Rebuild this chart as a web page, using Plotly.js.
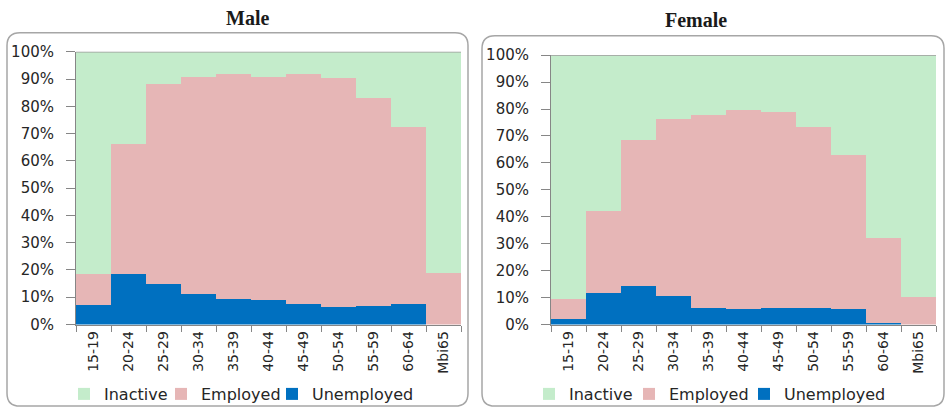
<!DOCTYPE html>
<html>
<head>
<meta charset="utf-8">
<script src="https://cdn.plot.ly/plotly-3.0.1.min.js"></script>
<style>html,body{margin:0;padding:0;background:#fff;}#chart{width:945px;height:411px;}</style>
</head>
<body>
<div id="chart"></div>
<script>
const ageGroups = ["15-19","20-24","25-29","30-34","35-39","40-44","45-49","50-54","55-59","60-64","Mbi65"];
const seriesNames = ["Inactive","Employed","Unemployed"];
const panelTitles = ["Male","Female"];

const maleUnemployed = [7.0, 18.5, 14.7, 11.3, 9.4, 9.1, 7.4, 6.4, 6.8, 7.5, 0];
const maleEmployed   = [11.5, 47.6, 73.4, 79.6, 82.6, 81.8, 84.6, 83.9, 76.2, 65.1, 18.9];
const maleInactive   = [81.5, 33.9, 11.9, 9.1, 8.0, 9.1, 8.0, 9.7, 17.0, 27.4, 81.1];

const femaleUnemployed = [2.0, 11.7, 14.3, 10.4, 6.3, 5.8, 6.3, 6.3, 5.8, 0.7, 0];
const femaleEmployed   = [7.6, 30.6, 54.1, 66.0, 71.6, 73.9, 72.7, 67.2, 57.1, 31.5, 10.2];
const femaleInactive   = [90.4, 57.7, 31.6, 23.6, 22.1, 20.3, 21.0, 26.5, 37.1, 67.8, 89.8];

const colors = {Inactive:"#C4ECCB", Employed:"#E6B6B6", Unemployed:"#0070C0"};
const W = 945, H = 411;
const px = x => x / W;
const py = y => (H - y) / H;

// one legend box per entry so each label sits close to where the reference puts it
const legendTextX = {
  male:   {Inactive: 105, Employed: 202, Unemployed: 313},
  female: {Inactive: 570, Employed: 670, Unemployed: 785}
};
const legendIds = {
  male:   {Inactive: "legend", Employed: "legend2", Unemployed: "legend3"},
  female: {Inactive: "legend4", Employed: "legend5", Unemployed: "legend6"}
};

function traces(unemp, emp, inact, xa, ya, panel) {
  const mk = (name, vals) => ({
    type: "bar", name: name, x: ageGroups, y: vals, xaxis: xa, yaxis: ya, legend: legendIds[panel][name],
    marker: {color: colors[name], line: {width: 0}}, hoverinfo: "skip"
  });
  return [mk("Unemployed", unemp), mk("Employed", emp), mk("Inactive", inact)];
}

const data = [].concat(
  traces(maleUnemployed, maleEmployed, maleInactive, "x", "y", "male"),
  traces(femaleUnemployed, femaleEmployed, femaleInactive, "x2", "y2", "female")
);

const axisGray = "#868686";
const tickFont = {family: "DejaVu Sans", size: 14, color: "#262626"};
function xAxis(d) {
  return {domain: d, type: "category", tickangle: -90, tickson: "boundaries", ticks: "outside",
    ticklen: 6, tickcolor: axisGray, showline: true, linecolor: axisGray, linewidth: 1,
    tickfont: tickFont, showgrid: false, zeroline: false, fixedrange: true};
}
function yAxis(d, anchor) {
  return {domain: d, anchor: anchor, range: [0, 100], dtick: 10, ticksuffix: "%", ticks: "outside",
    ticklen: 9, tickcolor: axisGray, showline: true, linecolor: axisGray, linewidth: 1, ticklabelstandoff: 9,
    tickfont: {family: "DejaVu Sans", size: 15, color: "#262626"}, showgrid: false, zeroline: false, fixedrange: true};
}

function roundRect(x0, y0, x1, y1, r) {
  const rx = r / W, ry = r / H;
  const X0 = px(x0), X1 = px(x1), Y0 = py(y0), Y1 = py(y1);
  return `M${X0+rx},${Y0} L${X1-rx},${Y0} Q${X1},${Y0} ${X1},${Y0-ry} L${X1},${Y1+ry} Q${X1},${Y1} ${X1-rx},${Y1} L${X0+rx},${Y1} Q${X0},${Y1} ${X0},${Y1+ry} L${X0},${Y0-ry} Q${X0},${Y0} ${X0+rx},${Y0} Z`;
}

const legendBase = {orientation: "h", font: {family: "DejaVu Sans", size: 16, color: "#262626"},
  yanchor: "middle", y: py(398), xanchor: "left", bgcolor: "rgba(0,0,0,0)", itemclick: false, itemdoubleclick: false};

const layout = {
  width: W, height: H,
  margin: {l: 0, r: 0, t: 0, b: 0},
  paper_bgcolor: "#ffffff", plot_bgcolor: "#ffffff",
  barmode: "stack", bargap: 0,
  showlegend: true,
  xaxis: xAxis([px(76), px(461)]),
  yaxis: yAxis([py(327.7), py(52.3)], "x"),
  xaxis2: Object.assign(xAxis([px(551), px(936)]), {anchor: "y2"}),
  yaxis2: yAxis([py(327.7), py(55.7)], "x2"),
  shapes: [
    {type: "path", xref: "paper", yref: "paper", path: roundRect(7, 33, 468, 410, 13), line: {color: "#A6A6A6", width: 1.5}, layer: "below"},
    {type: "path", xref: "paper", yref: "paper", path: roundRect(482, 36, 944, 410, 13), line: {color: "#A6A6A6", width: 1.5}, layer: "below"},
    {type: "line", xref: "x domain", yref: "y", x0: 0, x1: 1, y0: 100, y1: 100, line: {color: "#999999", width: 1.5}},
    {type: "line", xref: "x2 domain", yref: "y2", x0: 0, x1: 1, y0: 100, y1: 100, line: {color: "#999999", width: 1.5}}
  ],
  annotations: [
    {text: "<b>" + panelTitles[0] + "</b>", xref: "paper", yref: "paper", x: px(247), y: py(18), xanchor: "center", yanchor: "middle", showarrow: false,
     font: {family: "Liberation Serif", size: 20, color: "#1a1a1a"}},
    {text: "<b>" + panelTitles[1] + "</b>", xref: "paper", yref: "paper", x: px(696), y: py(20), xanchor: "center", yanchor: "middle", showarrow: false,
     font: {family: "Liberation Serif", size: 20, color: "#1a1a1a"}}
  ]
};

["male", "female"].forEach(panel => {
  seriesNames.forEach(name => {
    layout[legendIds[panel][name]] = Object.assign({}, legendBase, {x: px(legendTextX[panel][name] - 41)});
  });
});

Plotly.newPlot("chart", data, layout, {displayModeBar: false, staticPlot: true});
</script>
</body>
</html>
